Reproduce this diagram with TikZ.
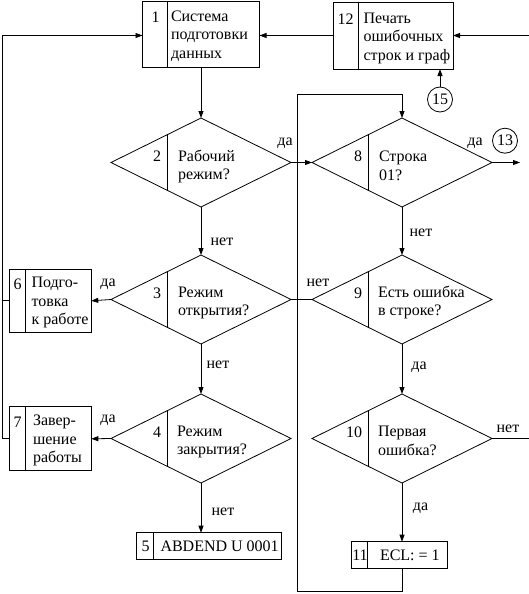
\documentclass[tikz,border=0pt]{standalone}
\usepackage{fontspec}
\setmainfont{Liberation Serif}
\newfontfamily\diafont{Liberation Serif}
\usetikzlibrary{shapes.geometric,arrows.meta,calc}
\begin{document}
\begin{tikzpicture}[x=1pt,y=-1pt,
  line width=0.8pt,
  every node/.style={font=\diafont\fontsize{16}{18.5}\selectfont, inner sep=0pt, outer sep=0pt},
  box/.style={draw, rectangle},
  dia/.style={draw, diamond, minimum width=180pt, minimum height=89pt},
  txt/.style={align=left, anchor=west},
  numr/.style={anchor=east},
  circ/.style={draw, circle, minimum size=25pt},
  arr/.style={-{Triangle[length=7pt,width=5pt]}}
]
\useasboundingbox (0,0) rectangle (529,594);

% ---------- boxes ----------
\node[box, minimum width=117pt, minimum height=66pt] (b1) at (201,34.2) {};
\draw ([xshift=25.2pt]b1.north west) -- ([xshift=25.2pt]b1.south west);
\node (n1) at (155.5,17.5) {1};
\node[txt] (t1) at (171,36) {Система\\подготовки\\данных};

\node[box, minimum width=120pt, minimum height=67pt] (b12) at (393,35.5) {};
\draw ([xshift=25pt]b12.north west) -- ([xshift=25pt]b12.south west);
\node (n12) at (345.5,19) {12};
\node[txt] (t12) at (363.5,38) {Печать\\ошибочных\\строк и граф};

\node[box, minimum width=82pt, minimum height=63pt] (b6) at (50.3,300.8) {};
\draw ([xshift=16.2pt]b6.north west) -- ([xshift=16.2pt]b6.south west);
\node (n6) at (17.5,284) {6};
\node[txt] (t6) at (31.5,302.5) {Подго-\\товка\\к работе};

\node[box, minimum width=82pt, minimum height=64pt] (b7) at (50.3,438.8) {};
\draw ([xshift=16pt]b7.north west) -- ([xshift=16pt]b7.south west);
\node (n7) at (17.5,422) {7};
\node[txt] (t7) at (33,440.5) {Завер-\\шение\\работы};

\node[box, minimum width=145pt, minimum height=26.6pt] (b5) at (209.2,546) {};
\draw ([xshift=16.6pt]b5.north west) -- ([xshift=16.6pt]b5.south west);
\node (n5) at (145.5,546.5) {5};
\node[anchor=west] (t5) at (160.5,546.5) {ABDEND U 0001};

\node[box, minimum width=95.6pt, minimum height=26.6pt] (b11) at (399.5,555) {};
\draw ([xshift=15.6pt]b11.north west) -- ([xshift=15.6pt]b11.south west);
\node (n11) at (360,555.5) {11};
\node[anchor=west] (t11) at (380,555.5) {ECL: = 1};

% ---------- diamonds ----------
\node[dia] (d2) at (201,162.5) {};
\node[dia] (d3) at (201,299.5) {};
\node[dia] (d4) at (201,438.5) {};
\node[dia] (d8) at (402,162.5) {};
\node[dia] (d9) at (402,299.5) {};
\node[dia] (d10) at (402,438.5) {};
\foreach \d in {d2,d3,d4,d8,d9,d10}{
  \draw ($(\d.west)!0.63!(\d.north)$) -- ($(\d.west)!0.63!(\d.south)$);
}
\node[numr] (n2) at (161,156.5) {2};
\node[txt] (t2) at (178,166.5) {Рабочий\\режим?};
\node[numr] (n3) at (161,293.5) {3};
\node[txt] (t3) at (178,303) {Режим\\открытия?};
\node[numr] (n4) at (161,432.5) {4};
\node[txt] (t4) at (177,442) {Режим\\закрытия?};
\node[numr] (n8) at (362,156.5) {8};
\node[txt] (t8) at (379,166) {Строка\\01?};
\node[numr] (n9) at (362,293.5) {9};
\node[txt] (t9) at (378,302.5) {Есть ошибка\\в строке?};
\node[numr] (n10) at (362,432.5) {10};
\node[txt] (t10) at (378,441) {Первая\\ошибка?};

% ---------- connectors ----------
\node[circ] (c15) at (440,99.5) {15};
\node[circ] (c13) at (505,140.7) {13};

\coordinate (rin) at (529,35.5);
\coordinate (rout10) at (529,438.5);
\coordinate (out13) at (520,162.5);
\coordinate (lx) at (2,35.5);
\coordinate (lbot) at (2,438.8);
\coordinate (loopbl) at (297,591.7);
\coordinate (looptl) at (297,94);

\draw[arr] (b1.south) -- (d2.north);
\draw[arr] (d2.east) -- (d8.west);
\draw[arr] (d2.south) -- (d3.north);
\draw[arr] (d3.south) -- (d4.north);
\draw[arr] (d3.west) -- (b6.east);
\draw[arr] (d4.west) -- (b7.east);
\draw[arr] (d4.south) -- (d4.south |- b5.north);
\draw[arr] (d8.south) -- (d9.north);
\draw[arr] (d9.south) -- (d10.north);
\draw[arr] (d10.south) -- (d10.south |- b11.north);
\draw (d10.east) -- (rout10);
\draw[arr] (d8.east) -- (out13);
\draw (d3.east) -- (d9.west);
\draw[arr] (d10.south |- b11.south) -- (d10.south |- loopbl) -- (loopbl) -- (looptl) -- (looptl -| d8.north) -- (d8.north);
\draw[arr] (b7.west) -- (lbot) -- (lx) -- (lx -| b1.west);
\draw (b6.west) -- (b6.west -| lx);
\draw[arr] (rin) -- (b12.east);
\draw[arr] (b12.west) -- (b12.west -| b1.east);
\draw[arr] (c15.north) -- (c15.north |- b12.south);

% ---------- labels ----------
\node (l2y) at (285,143) {да};
\node (l8y) at (475,143) {да};
\node (l2n) at (222,241.5) {нет};
\node (l8n) at (421,233) {нет};
\node (l3y) at (108,284) {да};
\node (l9n) at (318,283) {нет};
\node (l3n) at (218,365) {нет};
\node (l9y) at (419,367.5) {да};
\node (l4y) at (108,420) {да};
\node (l4n) at (223,511.5) {нет};
\node (l10n) at (508,428.5) {нет};
\node (l10y) at (420.5,508) {да};
\end{tikzpicture}
\end{document}
